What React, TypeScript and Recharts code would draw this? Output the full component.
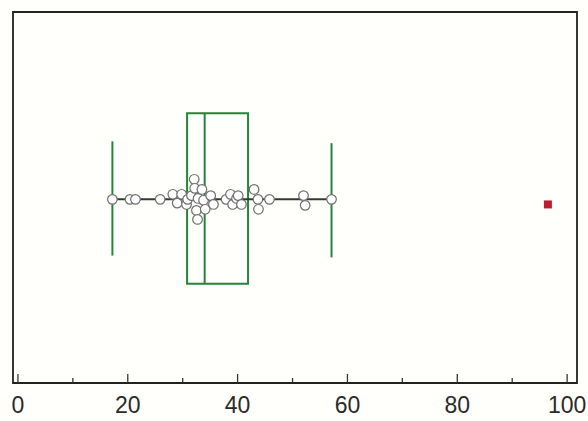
import React from "react";
import {
  ScatterChart,
  Scatter,
  XAxis,
  YAxis,
  ReferenceArea,
  ReferenceLine,
} from "recharts";

// box summary
const minWhisker = 17.2;
const maxWhisker = 57.1;
const q1 = 30.8;
const median = 34.0;
const q3 = 41.9;
const outlier = [{ x: 96.5, y: -0.027 }];

// raw observations (x value, vertical jitter)
const obsX = [
  17.2, 20.4, 21.4, 25.9, 28.2, 29.0, 29.8, 30.7, 30.9, 31.6, 32.1, 32.2, 32.5,
  32.7, 32.8, 33.5, 33.8, 34.1, 35.1, 35.6, 37.9, 38.7, 39.1, 39.8, 40.1, 40.7,
  43.0, 43.7, 43.8, 45.8, 52.0, 52.3, 57.1,
];
const obsJitter = [
  0, 0, 0, 0, 0.027, -0.02, 0.027, -0.027, 0, 0.02, 0.107, 0.059, -0.059,
  -0.107, 0.005, 0.053, -0.005, -0.053, 0.02, -0.027, 0, 0.027, -0.027, 0.005,
  0.02, -0.027, 0.053, 0, -0.053, 0, 0.02, -0.032, 0,
];

const xTicks = [0, 10, 20, 30, 40, 50, 60, 70, 80, 90, 100];
const xDomain = [-0.9, 101.8];
const yDomain = [-0.98, 1];

const points = obsX.map((x, i) => ({ x, y: obsJitter[i] }));

const green = "#23853a";

const Tick = (props: any) => {
  const { x, y, payload } = props;
  const major = payload.value % 20 === 0;
  return (
    <g>
      <line x1={x} x2={x} y1={y} y2={y - (major ? 9 : 5)} stroke="#333" strokeWidth={1.3} />
      {major && (
        <text
          x={x}
          y={y + 30}
          textAnchor="middle"
          fontSize={23}
          fontFamily="Liberation Sans, Arial, sans-serif"
          fill="#2a2a2a"
        >
          {payload.value}
        </text>
      )}
    </g>
  );
};

const Dot = (props: any) => (
  <circle cx={props.cx} cy={props.cy} r={4.8} fill="#fff" stroke="#6f6f6f" strokeWidth={1.2} />
);

const Square = (props: any) => (
  <rect x={props.cx - 4} y={props.cy - 4} width={8} height={8} fill="#c21b2f" />
);

export default function App() {
  return (
    <div style={{ background: "#fffffb", width: 588, height: 421 }}>
      <style>{`body{margin:0}`}</style>
      <ScatterChart
        width={588}
        height={421}
        margin={{ top: 12, right: 11, bottom: 0, left: 13 }}
      >
        <XAxis
          type="number"
          dataKey="x"
          domain={xDomain}
          ticks={xTicks}
          allowDataOverflow
          height={38}
          tickSize={0}
          tickMargin={0}
          tick={<Tick />}
          axisLine={{ stroke: "#222", strokeWidth: 1.8 }}
          interval={0}
        />
        <YAxis type="number" dataKey="y" domain={yDomain} hide />
        {/* plot frame */}
        <ReferenceArea
          x1={xDomain[0]}
          x2={xDomain[1]}
          y1={yDomain[0]}
          y2={yDomain[1]}
          fill="none"
          fillOpacity={0}
          stroke="#222"
          strokeWidth={1.8}
        />
        <ReferenceArea
          x1={q1}
          x2={q3}
          y1={-0.45}
          y2={0.46}
          fill="none"
          fillOpacity={0}
          stroke={green}
          strokeWidth={2}
        />
        <ReferenceLine
          segment={[
            { x: median, y: -0.45 },
            { x: median, y: 0.46 },
          ]}
          stroke={green}
          strokeWidth={2}
        />
        <ReferenceLine
          segment={[
            { x: minWhisker, y: -0.3 },
            { x: minWhisker, y: 0.31 },
          ]}
          stroke={green}
          strokeWidth={2}
        />
        <ReferenceLine
          segment={[
            { x: maxWhisker, y: -0.31 },
            { x: maxWhisker, y: 0.3 },
          ]}
          stroke={green}
          strokeWidth={2}
        />
        <ReferenceLine
          segment={[
            { x: minWhisker, y: 0 },
            { x: maxWhisker, y: 0 },
          ]}
          stroke="#2f3a30"
          strokeWidth={2}
        />
        <Scatter data={points} shape={<Dot />} isAnimationActive={false} />
        <Scatter data={outlier} shape={<Square />} isAnimationActive={false} />
      </ScatterChart>
    </div>
  );
}
